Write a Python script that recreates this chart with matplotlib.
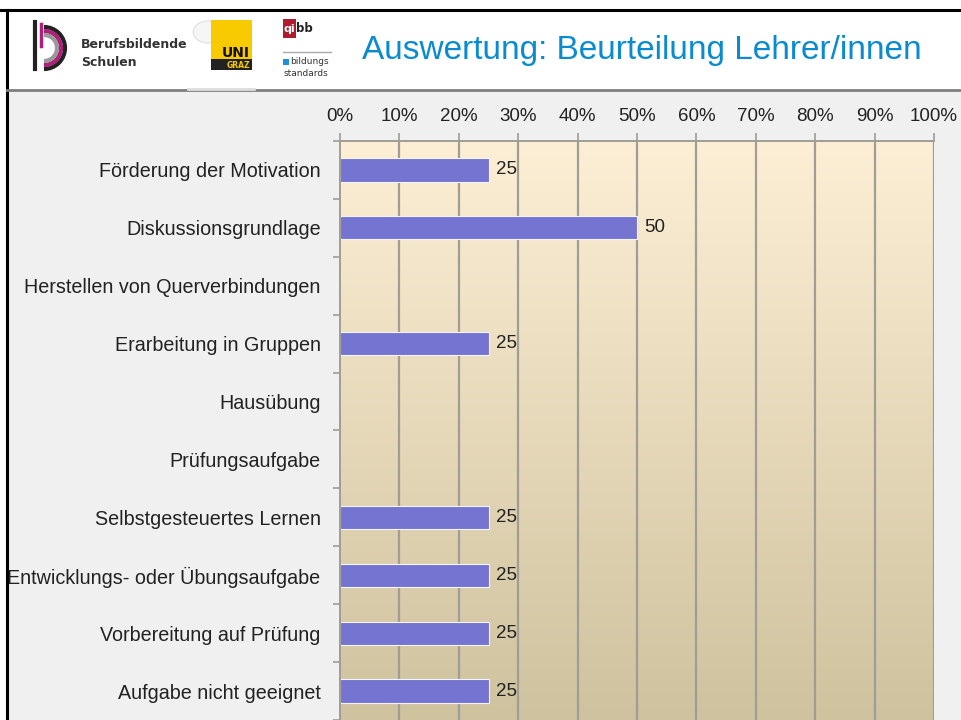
import numpy as np
import matplotlib.pyplot as plt
from matplotlib.patches import Rectangle, Arc

# Chart data
categories = [
    'Förderung der Motivation',
    'Diskussionsgrundlage',
    'Herstellen von Querverbindungen',
    'Erarbeitung in Gruppen',
    'Hausübung',
    'Prüfungsaufgabe',
    'Selbstgesteuertes Lernen',
    'Entwicklungs- oder Übungsaufgabe',
    'Vorbereitung auf Prüfung',
    'Aufgabe nicht geeignet',
]
values = [25, 50, 0, 25, 0, 0, 25, 25, 25, 25]
x_ticks = [0, 10, 20, 30, 40, 50, 60, 70, 80, 90, 100]
x_tick_labels = ['%d%%' % t for t in x_ticks]
title = 'Auswertung: Beurteilung Lehrer/innen'

W, H = 962, 720
sans = ['Liberation Sans', 'DejaVu Sans']
fig = plt.figure(figsize=(W / 100, H / 100), dpi=100)
fig.patch.set_facecolor('white')


def fx(px):
    return px / W


def fy(py):
    return 1 - py / H


# Slide background and frame
fig.add_artist(Rectangle((fx(7), 0), 1, fy(90), transform=fig.transFigure,
                         facecolor='#f0f0f0', edgecolor='none', zorder=0))
fig.add_artist(plt.Line2D([0, 1], [fy(10), fy(10)], transform=fig.transFigure,
                          color='black', lw=2.2))
fig.add_artist(plt.Line2D([fx(7), fx(7)], [0, fy(10)], transform=fig.transFigure,
                          color='black', lw=2.2))
fig.add_artist(plt.Line2D([fx(7), 1], [fy(89.5), fy(89.5)], transform=fig.transFigure,
                          color='#7f7f7f', lw=2))

# Logo: bbs
for r, c in [(21, '#222222'), (17, '#b0207a'), (13, '#9a9a9a')]:
    fig.add_artist(Arc((fx(44), fy(48)), fx(2 * r), 2 * r / H, theta1=-90, theta2=90,
                       transform=fig.transFigure, color=c, lw=3))
fig.add_artist(plt.Line2D([fx(35), fx(35)], [fy(22), fy(69)], transform=fig.transFigure,
                          color='#222222', lw=3))
fig.add_artist(plt.Line2D([fx(41), fx(41)], [fy(24), fy(46)], transform=fig.transFigure,
                          color='#b0207a', lw=2.5))
fig.text(fx(81), fy(44), 'Berufsbildende', fontsize=9, fontweight='bold',
         color='#333333', va='center', ha='left')
fig.text(fx(81), fy(62), 'Schulen', fontsize=9, fontweight='bold',
         color='#333333', va='center', ha='left')

# Logo: Uni Graz
fig.add_artist(plt.Circle((fx(208), fy(32)), 11 / H, transform=fig.transFigure,
                          facecolor='#f6f6f6', edgecolor='#e4e4e4', lw=1))
fig.add_artist(Rectangle((fx(211), fy(70)), fx(41), 50 / H, transform=fig.transFigure,
                         facecolor='#f7cb00', edgecolor='none'))
fig.add_artist(Rectangle((fx(211), fy(70)), fx(41), 11 / H, transform=fig.transFigure,
                         facecolor='#222222', edgecolor='none'))
fig.text(fx(250), fy(53), 'UNI', fontsize=10, fontweight='bold', color='#111111',
         ha='right', va='center')
fig.text(fx(250), fy(65), 'GRAZ', fontsize=5.5, fontweight='bold', color='#f7cb00',
         ha='right', va='center')
fig.add_artist(plt.Line2D([fx(188), fx(254)], [fy(89), fy(89)], transform=fig.transFigure,
                          color='#dddddd', lw=2))

# Logo: qibb
fig.add_artist(Rectangle((fx(283), fy(38)), fx(13), 19 / H, transform=fig.transFigure,
                         facecolor='#b01c2e', edgecolor='none'))
fig.text(fx(289.5), fy(29), 'qi', fontsize=8, fontweight='bold', color='white',
         ha='center', va='center')
fig.text(fx(296), fy(29), 'bb', fontsize=8.5, fontweight='bold', color='#222222',
         ha='left', va='center')
fig.add_artist(plt.Line2D([fx(283), fx(331)], [fy(52), fy(52)], transform=fig.transFigure,
                          color='#aaaaaa', lw=1))
fig.add_artist(Rectangle((fx(283), fy(65)), fx(6), 6 / H, transform=fig.transFigure,
                         facecolor='#1f8fd8', edgecolor='none'))
fig.text(fx(290), fy(62), 'bildungs', fontsize=6.5, color='#333333', ha='left', va='center')
fig.text(fx(284), fy(73), 'standards', fontsize=6.5, color='#333333', ha='left', va='center')

# Title
fig.text(fx(642), fy(50), title, fontsize=24, color='#0a8bd0',
         family=sans, ha='center', va='center')

# Chart axes
ax = fig.add_axes([fx(340), 0, fx(934) - fx(340), fy(141)])
ax.set_xlim(0, 100)
ax.set_ylim(len(categories) - 0.5, -0.5)

# gradient plot area
top = np.array([253, 239, 213]) / 255
bot = np.array([207, 194, 158]) / 255
t = np.linspace(0, 1, 256)[:, None, None]
grad = top * (1 - t) + bot * t
ax.imshow(grad, extent=[0, 100, len(categories) - 0.5, -0.5], aspect='auto',
          interpolation='bilinear', zorder=0)

for xt in x_ticks[1:]:
    ax.axvline(xt, color='#a09c96', lw=1.6, zorder=1)

y = np.arange(len(categories))
ax.barh(y, values, height=0.4, color='#7575d1', edgecolor='#f4f4ff', lw=0.8, zorder=2)
for yi, v in zip(y, values):
    if v > 0:
        ax.text(v + 1.2, yi, str(v), fontsize=13.5, family=sans,
                ha='left', va='center', color='#222222', zorder=3)

ax.xaxis.tick_top()
ax.set_xticks(x_ticks)
ax.set_xticklabels(x_tick_labels, fontsize=13.5, family=sans, color='#222222')
ax.tick_params(axis='x', length=5.5, color='#a09c96', width=1.2, pad=6)

ax.set_yticks(y)
ax.set_yticklabels(categories, fontsize=14.2, family=sans, color='#222222')
ax.tick_params(axis='y', length=0, pad=14)
ax.set_yticks(np.arange(len(categories) + 1) - 0.5, minor=True)
ax.tick_params(axis='y', which='minor', length=5, color='#a09c96', width=1.2)

for side in ['right', 'bottom']:
    ax.spines[side].set_visible(False)
for side in ['top', 'left']:
    ax.spines[side].set_color('#a09c96')
    ax.spines[side].set_linewidth(1.4)

fig.savefig('out.png', dpi=100, facecolor=fig.get_facecolor())
